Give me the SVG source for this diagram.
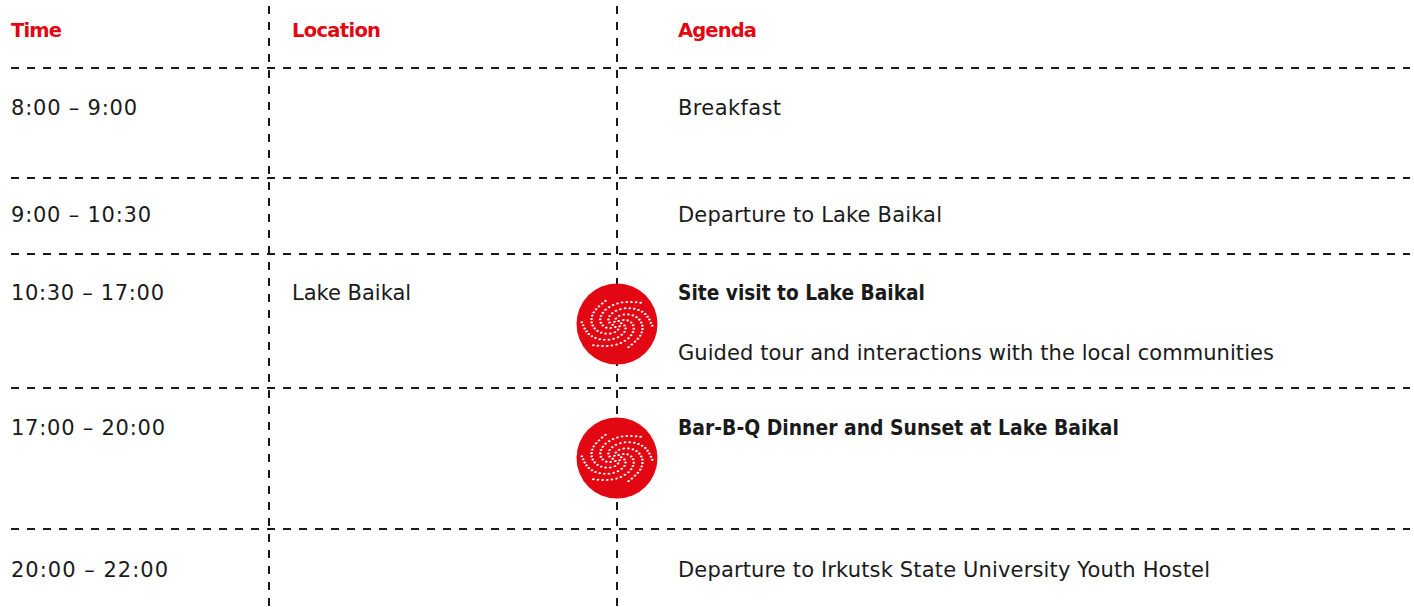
<svg xmlns="http://www.w3.org/2000/svg" xmlns:xlink="http://www.w3.org/1999/xlink" width="1414" height="607" viewBox="0 0 1414 607">
<style>
.grid{stroke:#1a1a1a;stroke-width:2;stroke-dasharray:8 8;fill:none}
.hd{font-family:"DejaVu Sans",sans-serif;font-weight:bold;font-size:19.5px;fill:#E30613}
.tx{font-family:"DejaVu Sans",sans-serif;font-size:21px;fill:#1a1a1a}
.bd{font-family:"DejaVu Sans",sans-serif;font-weight:bold;font-size:21px;fill:#1a1a1a}
.dots{fill:none;stroke:#fff;stroke-width:2.6;stroke-linecap:round;stroke-dasharray:0 4.4}
</style>
<defs>
<path id="arm" class="dots" d="M4,0 Q7.02,3.28 7.2,6.05 Q7.39,8.81 5.67,11.77 Q3.95,14.73 0.33,16.72 Q-3.3,18.71 -8.18,18.68 Q-13.05,18.64 -18,15.95 Q-22.95,13.25 -26.54,7.95 Q-30.13,2.64 -31.95,-11.63" transform="scale(1.08)"/>
<g id="swirl">
<circle r="40.5" fill="#E30613"/>
<g transform="rotate(-10) scale(1,0.7)">
<use xlink:href="#arm"/>
<use xlink:href="#arm" transform="rotate(60)"/>
<use xlink:href="#arm" transform="rotate(120)"/>
<use xlink:href="#arm" transform="rotate(180)"/>
<use xlink:href="#arm" transform="rotate(240)"/>
<use xlink:href="#arm" transform="rotate(300)"/>
</g>
</g>
</defs>
<rect width="1414" height="607" fill="#fff"/>
<g id="connectors">
<line class="grid" x1="11" y1="68" x2="1410" y2="68"/>
<line class="grid" x1="11" y1="178" x2="1410" y2="178"/>
<line class="grid" x1="11" y1="254" x2="1410" y2="254"/>
<line class="grid" x1="11" y1="388" x2="1410" y2="388"/>
<line class="grid" x1="11" y1="529" x2="1410" y2="529"/>
<line class="grid" x1="269" y1="6" x2="269" y2="607"/>
<line class="grid" x1="617" y1="6" x2="617" y2="607"/>
</g>
<g id="header">
<text class="hd" x="11" y="37" textLength="51">Time</text>
<text class="hd" x="292" y="37" textLength="89">Location</text>
<text class="hd" x="678" y="37" textLength="79">Agenda</text>
</g>
<g id="row1">
<text class="tx" x="11" y="115" textLength="126">8:00 – 9:00</text>
<text class="tx" x="678" y="115" textLength="103">Breakfast</text>
</g>
<g id="row2">
<text class="tx" x="11" y="222" textLength="140">9:00 – 10:30</text>
<text class="tx" x="678" y="222" textLength="264">Departure to Lake Baikal</text>
</g>
<g id="row3">
<text class="tx" x="11" y="300" textLength="153">10:30 – 17:00</text>
<text class="tx" x="292" y="300">Lake Baikal</text>
<use id="icon1" xlink:href="#swirl" x="617" y="324"/>
<text class="bd" x="678" y="300" textLength="247" lengthAdjust="spacingAndGlyphs">Site visit to Lake Baikal</text>
<text class="tx" x="678" y="360" textLength="596">Guided tour and interactions with the local communities</text>
</g>
<g id="row4">
<text class="tx" x="11" y="435" textLength="154">17:00 – 20:00</text>
<use id="icon2" xlink:href="#swirl" x="617" y="458"/>
<text class="bd" x="678" y="435" textLength="441" lengthAdjust="spacingAndGlyphs">Bar-B-Q Dinner and Sunset at Lake Baikal</text>
</g>
<g id="row5">
<text class="tx" x="11" y="577" textLength="157">20:00 – 22:00</text>
<text class="tx" x="678" y="577" textLength="532">Departure to Irkutsk State University Youth Hostel</text>
</g>
</svg>
